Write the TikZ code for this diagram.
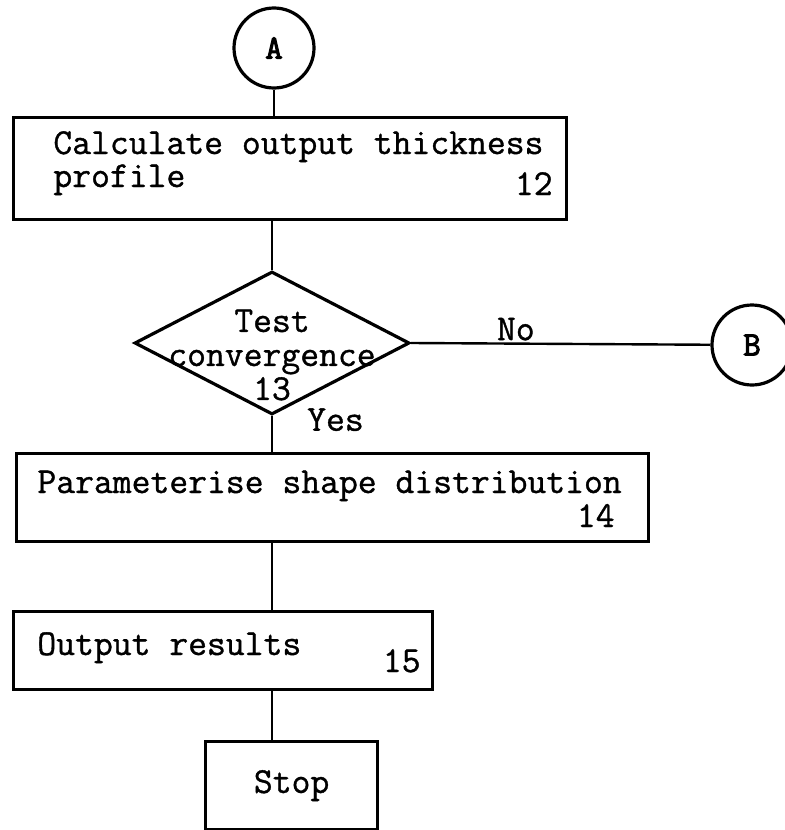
\documentclass[tikz,border=0pt]{standalone}
\usepackage{fontspec}
\newfontfamily\typer{Latin Modern Mono}[FakeBold=1]
\newfontfamily\typerbold{Latin Modern Mono}[FakeBold=3]
\usetikzlibrary{positioning,shapes.geometric}

\begin{document}
\begin{tikzpicture}[
  x=0.5pt, y=-0.5pt,
  font=\typer\fontsize{18.3}{17}\selectfont,
  box/.style={draw, line width=1.6pt, anchor=north west, inner sep=0pt},
  conn/.style={draw, circle, line width=1.6pt, minimum size=40pt, inner sep=0pt, font=\typerbold\fontsize{17}{16}\selectfont},
  dec/.style={draw, diamond, line width=1.6pt, inner sep=0pt, minimum width=137.5pt, minimum height=71.5pt},
  txt/.style={inner sep=0pt, anchor=base west},
  num/.style={inner sep=0pt, anchor=base east},
  link/.style={line width=1.2pt}
]
\useasboundingbox (0,0) rectangle (784,830);
\node[conn] (A) at (274,48) {A};
\node[box, minimum width=276.5pt, minimum height=51pt] (calc) at (12,116) {};
\node[txt] (l1) at (53,154) {Calculate output thickness};
\node[txt] (l2) at (53,187) {profile};
\node[num] (n12) at (553,195) {12};
\node[dec] (test) at (272,343) {};
\node[align=center, inner sep=0pt] (testtxt) at (272,355) {Test\\convergence\\13};
\node[conn] (B) at (752,345) {B};
\node[box, minimum width=316pt, minimum height=44pt] (param) at (15,452) {};
\node[txt] (l3) at (37,493) {Parameterise shape distribution};
\node[num] (n14) at (615,527) {14};
\node[box, minimum width=209.5pt, minimum height=39pt] (out) at (12,610) {};
\node[txt] (l4) at (37,655) {Output results};
\node[num] (n15) at (421,672) {15};
\node[box, minimum width=86pt, minimum height=44pt] (stop) at (204,740) {\raisebox{-4pt}{Stop}};
\draw[link] (A) -- (A |- calc.north);
\draw[link] (test |- calc.south) -- (test.north);
\draw[link] (test.east) -- node[above, pos=0.35, inner sep=1pt] {No} (B);
\draw[link] (test.south) -- node[pos=0.1, right=17pt, inner sep=0pt] {Yes} (test.south |- param.north);
\draw[link] (test |- param.south) -- (test |- out.north);
\draw[link] (test |- out.south) -- (test |- stop.north);
\end{tikzpicture}
\end{document}
